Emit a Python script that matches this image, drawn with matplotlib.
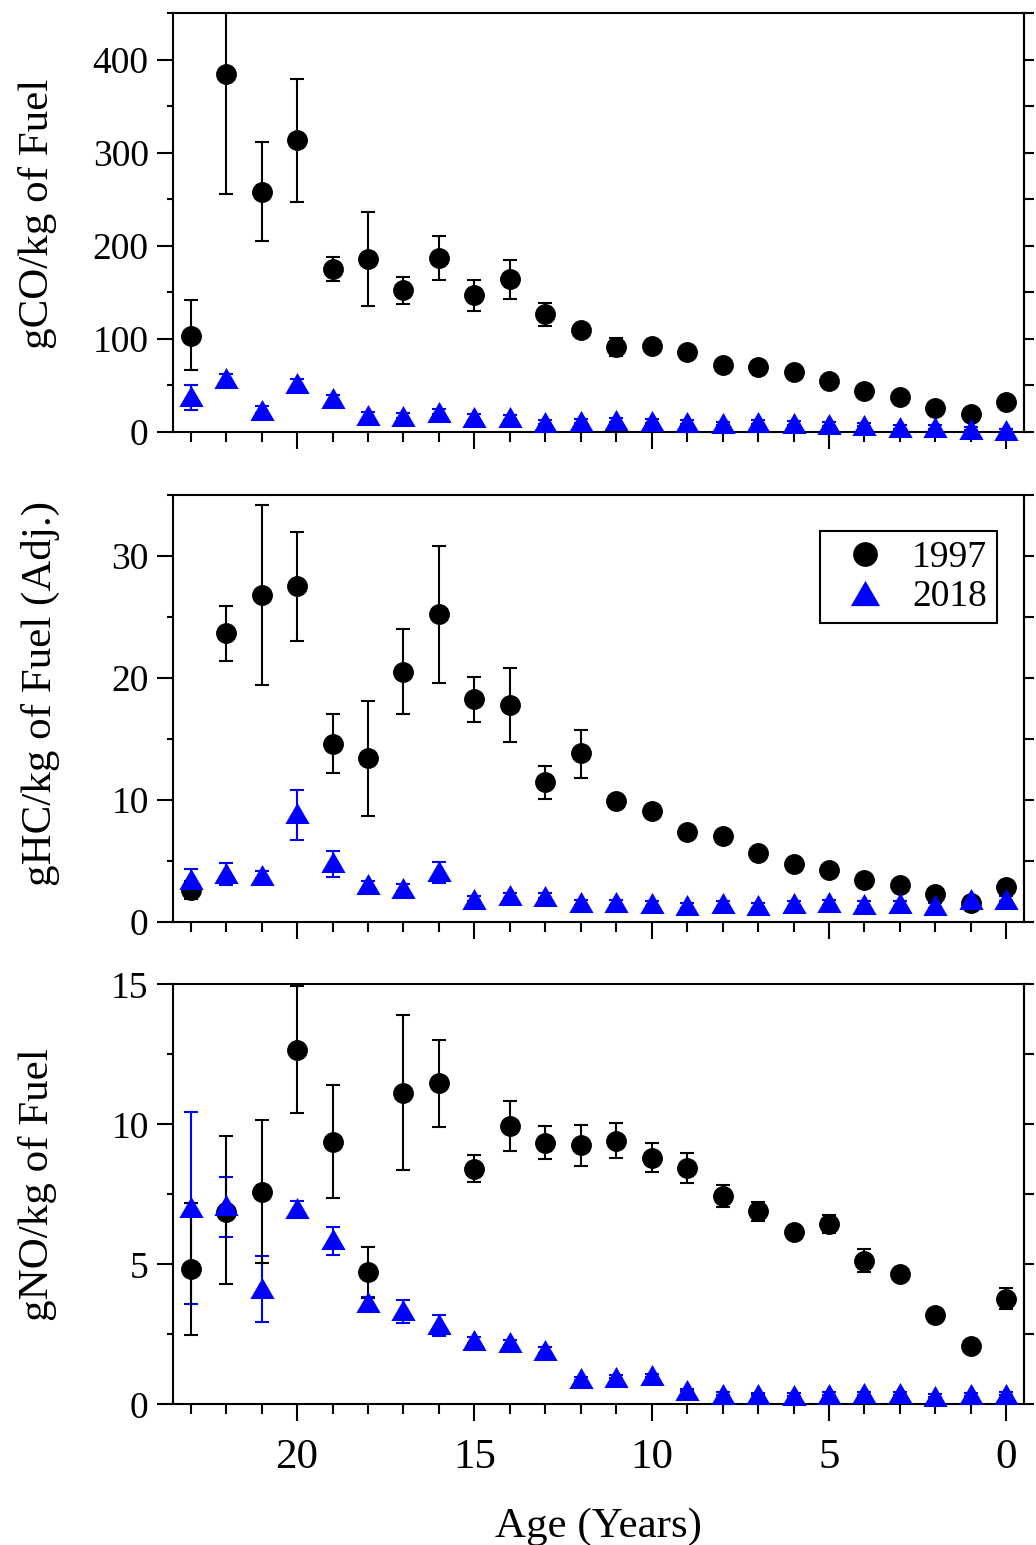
import matplotlib
matplotlib.use('Agg')
import matplotlib.pyplot as plt
from matplotlib.lines import Line2D
from matplotlib.ticker import MultipleLocator

plt.rcParams['font.family'] = ['Liberation Serif', 'DejaVu Serif']

# ---------------- data ----------------
age = [23, 22, 21, 20, 19, 18, 17, 16, 15, 14, 13, 12, 11, 10, 9, 8, 7, 6, 5, 4, 3, 2, 1, 0]

# CO (g/kg of fuel)
co_1997 = [103, 384, 258, 314, 175, 186, 152, 187, 147, 164, 126, 109, 91, 92.5, 86, 72, 69, 64, 54.5, 44, 37, 26, 18.6, 31.5]
co_1997_lo = [37, 128, 53, 67, 13, 51, 15, 24, 17, 21, 12, 4, 10, 4, 4, 4, 4, 4, 4, 4, 3, 3, 3, 3]
co_1997_hi = [39, 128, 53, 65, 13, 50, 14, 23, 16, 21, 12, 4, 10, 4, 4, 4, 4, 4, 4, 4, 3, 3, 3, 3]
co_2018 = [38.7, 57.3, 23.7, 52, 35.8, 17.9, 17.2, 21.5, 16.1, 15.4, 10.8, 11.8, 12.4, 11.5, 10.4, 8.9, 10.4, 9.7, 7.9, 7.7, 5.4, 4.7, 3.4, 1.4]
co_2018_lo = [15, 5, 4, 5, 4, 3, 3, 3, 3, 3, 2, 2, 2, 2, 2, 2, 2, 2, 2, 2, 2, 2, 2, 2]
co_2018_hi = [11, 5, 4, 5, 4, 3, 3, 3, 3, 3, 2, 2, 2, 2, 2, 2, 2, 2, 2, 2, 2, 2, 2, 2]

# HC (g/kg of fuel, adjusted)
hc_1997 = [2.6, 23.66, 26.8, 27.5, 14.6, 13.4, 20.5, 25.2, 18.3, 17.8, 11.45, 13.8, 9.9, 9.1, 7.37, 6.99, 5.6, 4.7, 4.27, 3.4, 3.0, 2.27, 1.56, 2.86]
hc_1997_lo = [0.7, 2.26, 7.4, 4.5, 2.4, 4.7, 3.5, 5.6, 1.9, 3.1, 1.35, 2.0, 0.4, 0.4, 0.35, 0.35, 0.3, 0.3, 0.3, 0.3, 0.25, 0.2, 0.2, 0.25]
hc_1997_hi = [0.7, 2.24, 7.4, 4.45, 2.4, 4.7, 3.5, 5.6, 1.8, 3.0, 1.35, 1.9, 0.4, 0.4, 0.35, 0.35, 0.3, 0.3, 0.3, 0.3, 0.25, 0.2, 0.2, 0.25]
hc_2018 = [3.5, 3.99, 3.85, 8.9, 4.9, 3.06, 2.78, 4.13, 1.89, 2.17, 2.14, 1.6, 1.6, 1.5, 1.33, 1.5, 1.33, 1.5, 1.6, 1.46, 1.5, 1.33, 1.85, 1.9]
hc_2018_lo = [0.8, 1.0, 0.3, 2.2, 1.2, 0.3, 0.3, 0.93, 0.2, 0.2, 0.2, 0.2, 0.2, 0.2, 0.2, 0.2, 0.2, 0.2, 0.2, 0.2, 0.2, 0.2, 0.2, 0.2]
hc_2018_hi = [0.8, 0.8, 0.3, 1.9, 0.87, 0.3, 0.3, 0.77, 0.2, 0.2, 0.2, 0.2, 0.2, 0.2, 0.2, 0.2, 0.2, 0.2, 0.2, 0.2, 0.2, 0.2, 0.2, 0.2]

# NO (g/kg of fuel)
no_1997 = [4.83, 6.88, 7.6, 12.65, 9.38, 4.71, 11.13, 11.46, 8.4, 9.95, 9.34, 9.25, 9.41, 8.81, 8.43, 7.44, 6.89, 6.14, 6.44, 5.13, 4.64, 3.18, 2.08, 3.76]
no_1997_lo = [2.34, 2.58, 2.57, 2.25, 2.02, 0.91, 2.76, 1.55, 0.46, 0.9, 0.57, 0.74, 0.63, 0.51, 0.54, 0.38, 0.33, 0.2, 0.33, 0.39, 0.15, 0.15, 0.1, 0.37]
no_1997_hi = [2.35, 2.7, 2.55, 2.29, 2.02, 0.91, 2.77, 1.54, 0.51, 0.89, 0.59, 0.72, 0.64, 0.53, 0.56, 0.38, 0.32, 0.2, 0.32, 0.41, 0.15, 0.15, 0.1, 0.38]
no_2018 = [7.06, 7.12, 4.15, 7.01, 5.92, 3.67, 3.37, 2.88, 2.3, 2.21, 1.94, 0.93, 0.99, 1.03, 0.51, 0.38, 0.37, 0.34, 0.38, 0.4, 0.39, 0.31, 0.36, 0.38]
no_2018_lo = [3.48, 1.13, 1.2, 0.37, 0.59, 0.15, 0.48, 0.43, 0.1, 0.1, 0.1, 0.05, 0.05, 0.05, 0.05, 0.05, 0.05, 0.05, 0.05, 0.05, 0.05, 0.05, 0.05, 0.05]
no_2018_hi = [3.39, 1.01, 1.15, 0.26, 0.4, 0.15, 0.35, 0.31, 0.1, 0.1, 0.1, 0.05, 0.05, 0.05, 0.05, 0.05, 0.05, 0.05, 0.05, 0.05, 0.05, 0.05, 0.05, 0.05]

series_labels = ['1997', '2018']
ylabels = ['gCO/kg of Fuel', 'gHC/kg of Fuel (Adj.)', 'gNO/kg of Fuel']
xlabel = 'Age (Years)'

# ---------------- figure ----------------
W_PX, H_PX = 1036, 1545
fig = plt.figure(figsize=(W_PX / 100, H_PX / 100), dpi=100)

LEFT, RIGHT = 173, 1024


def rect(top, bot):
    return [LEFT / W_PX, 1 - bot / H_PX, (RIGHT - LEFT) / W_PX, (bot - top) / H_PX]


ax1 = fig.add_axes(rect(13, 431.7))
ax2 = fig.add_axes(rect(495, 921.7))
ax3 = fig.add_axes(rect(984.3, 1404.3))

tri = [(-1, -0.866), (1, -0.866), (0, 0.866), (-1, -0.866)]
TRI_MS = 17.5
CIR_MS = 14

panels = [
    (ax1, co_1997, co_1997_lo, co_1997_hi, co_2018, co_2018_lo, co_2018_hi, (0, 450), 100, 50),
    (ax2, hc_1997, hc_1997_lo, hc_1997_hi, hc_2018, hc_2018_lo, hc_2018_hi, (0, 35), 10, 5),
    (ax3, no_1997, no_1997_lo, no_1997_hi, no_2018, no_2018_lo, no_2018_hi, (0, 15), 5, 2.5),
]

LW = 1.5
for ax, v97, lo97, hi97, v18, lo18, hi18, ylim, maj, mnr in panels:
    ax.errorbar(age, v18, yerr=[lo18, hi18], fmt='none', ecolor='blue',
                elinewidth=LW, capsize=5, capthick=LW, zorder=2)
    ax.errorbar(age, v97, yerr=[lo97, hi97], fmt='none', ecolor='black',
                elinewidth=LW, capsize=5, capthick=LW, zorder=3)
    ax.plot(age, v97, linestyle='none', marker='o', ms=CIR_MS, color='black',
            zorder=4, clip_on=False)
    ax.plot(age, v18, linestyle='none', marker=tri, ms=TRI_MS, color='blue',
            markeredgewidth=0, zorder=5, clip_on=False)

    ax.set_xlim(23.5, -0.5)
    ax.set_ylim(*ylim)
    ax.xaxis.set_major_locator(MultipleLocator(5))
    ax.xaxis.set_minor_locator(MultipleLocator(1))
    ax.yaxis.set_major_locator(MultipleLocator(maj))
    ax.yaxis.set_minor_locator(MultipleLocator(mnr))
    ax.tick_params(axis='x', which='major', direction='out', length=12.5, width=LW,
                   top=False, bottom=True, labelsize=31, pad=12)
    ax.tick_params(axis='x', which='minor', direction='out', length=7, width=LW,
                   top=False, bottom=True)
    ax.tick_params(axis='y', which='major', direction='out', length=11.5, width=LW,
                   left=True, right=False, labelsize=27, pad=6)
    ax.tick_params(axis='y', which='minor', direction='out', length=4.5, width=LW,
                   left=True, right=False)
    for s in ax.spines.values():
        s.set_linewidth(LW)

    sec = ax.secondary_yaxis('right')
    sec.yaxis.set_major_locator(MultipleLocator(maj))
    sec.yaxis.set_minor_locator(MultipleLocator(mnr))
    sec.tick_params(axis='y', which='both', direction='out', length=7.5, width=LW,
                    labelright=False)
    sec.spines['right'].set_linewidth(LW)

ax1.tick_params(axis='x', labelbottom=False)
ax2.tick_params(axis='x', labelbottom=False)

# axis labels
label_pos = [(38, 214), (40, 694), (38, 1185)]
for txt, (px, py) in zip(ylabels, label_pos):
    fig.text(px / W_PX, 1 - py / H_PX, txt, rotation=90, ha='center', va='center',
             fontsize=31)
fig.text(598.5 / W_PX, 1 - 1536.7 / H_PX, xlabel, ha='center', va='baseline', fontsize=31)

# legend
handles = [
    Line2D([], [], linestyle='none', marker='o', ms=CIR_MS, color='black'),
    Line2D([], [], linestyle='none', marker=tri, ms=TRI_MS, color='blue', markeredgewidth=0),
]
leg = ax2.legend(handles, series_labels, loc='upper right',
                 bbox_to_anchor=(996.7 / W_PX, 1 - 531 / H_PX),
                 bbox_transform=fig.transFigure, borderaxespad=0,
                 fontsize=27, frameon=True, fancybox=False, edgecolor='black',
                 framealpha=1, markerscale=1.2, handlelength=1.9,
                 handletextpad=0.3, borderpad=0.25, labelspacing=0.12)
leg.get_frame().set_linewidth(LW)

fig.savefig('out.png', dpi=100)
